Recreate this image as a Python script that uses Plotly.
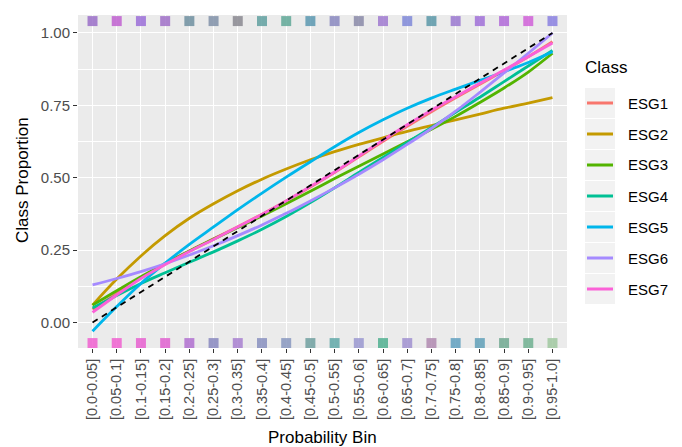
import plotly.graph_objects as go

bins = ["[0.0-0.05]", "[0.05-0.1]", "[0.1-0.15]", "[0.15-0.2]", "[0.2-0.25]",
        "[0.25-0.3]", "[0.3-0.35]", "[0.35-0.4]", "[0.4-0.45]", "[0.45-0.5]",
        "[0.5-0.55]", "[0.55-0.6]", "[0.6-0.65]", "[0.65-0.7]", "[0.7-0.75]",
        "[0.75-0.8]", "[0.8-0.85]", "[0.85-0.9]", "[0.9-0.95]", "[0.95-1.0]"]

classes = ["ESG1", "ESG2", "ESG3", "ESG4", "ESG5", "ESG6", "ESG7"]
class_colors = ["#F8766D", "#C49A00", "#53B400", "#00C094", "#00B6EB", "#A58AFF", "#FB61D7"]

esg1 = [0.045, 0.10, 0.155, 0.203, 0.247, 0.289, 0.331, 0.374, 0.42, 0.468,
        0.518, 0.572, 0.626, 0.678, 0.728, 0.776, 0.823, 0.87, 0.918, 0.97]
esg2 = [0.06, 0.15, 0.23, 0.30, 0.36, 0.41, 0.455, 0.495, 0.53, 0.562,
        0.59, 0.615, 0.638, 0.66, 0.68, 0.70, 0.72, 0.74, 0.758, 0.777]
esg3 = [0.06, 0.11, 0.158, 0.204, 0.247, 0.288, 0.328, 0.368, 0.41, 0.453,
        0.497, 0.54, 0.582, 0.624, 0.667, 0.712, 0.76, 0.81, 0.865, 0.93]
esg4 = [0.05, 0.093, 0.135, 0.172, 0.208, 0.244, 0.282, 0.322, 0.366, 0.414,
        0.465, 0.518, 0.57, 0.622, 0.674, 0.726, 0.778, 0.832, 0.886, 0.94]
esg5 = [-0.03, 0.055, 0.135, 0.205, 0.27, 0.33, 0.39, 0.447, 0.502, 0.555,
        0.607, 0.656, 0.70, 0.74, 0.775, 0.806, 0.836, 0.866, 0.898, 0.935]
esg6 = [0.13, 0.152, 0.176, 0.203, 0.233, 0.265, 0.30, 0.337, 0.377, 0.42,
        0.465, 0.512, 0.562, 0.615, 0.67, 0.73, 0.795, 0.862, 0.93, 1.0]
esg7 = [0.035, 0.095, 0.152, 0.20, 0.245, 0.287, 0.33, 0.373, 0.42, 0.47,
        0.52, 0.575, 0.63, 0.683, 0.733, 0.78, 0.826, 0.872, 0.918, 0.965]
series = [esg1, esg2, esg3, esg4, esg5, esg6, esg7]

ref_x = [bins[0], bins[-1]]
ref_y = [0.0, 1.0]

rug_top_colors = ["#9a6fc8", "#c060d0", "#9b6fd8", "#a070c8", "#6f8fa0",
                  "#8090a8", "#8a8890", "#60a0a0", "#60a898", "#5a98b0",
                  "#8a88c0", "#8a8aa8", "#a07ad0", "#7f88d8", "#5a98a8",
                  "#9a78d0", "#a070d8", "#b068d8", "#d060d8", "#8a80e0"]
rug_bottom_colors = ["#f060d0", "#f060d0", "#e860d0", "#e060d0", "#b070d0",
                     "#8888c0", "#a880d0", "#8890c0", "#8898c0", "#70a0a0",
                     "#60a8a8", "#9a98d0", "#50b090", "#a090d0", "#b08ab0",
                     "#60a0c0", "#60a0b8", "#70a890", "#70b090", "#a0c8a0"]

fig = go.Figure()

for name, vals, col in zip(classes, series, class_colors):
    fig.add_trace(go.Scatter(x=bins, y=vals, mode="lines", name=name,
                             line=dict(color=col, width=2.8, shape="spline", smoothing=1.0),
                             showlegend=False))

fig.add_trace(go.Scatter(x=ref_x, y=ref_y, mode="lines",
                         line=dict(color="black", width=1.8, dash="6px,5px"),
                         showlegend=False))

fig.add_trace(go.Scatter(x=bins, y=[1.041] * len(bins), mode="markers",
                         marker=dict(symbol="square", size=10, color=rug_top_colors,
                                     opacity=0.85, line=dict(width=0)),
                         showlegend=False))
fig.add_trace(go.Scatter(x=bins, y=[-0.071] * len(bins), mode="markers",
                         marker=dict(symbol="square", size=10, color=rug_bottom_colors,
                                     opacity=0.85, line=dict(width=0)),
                         showlegend=False))

# manual legend (ggplot style)
W, H = 682, 447
L, R, T, B = 78, 115, 15, 99
pw, ph = W - L - R, H - T - B

def px(x):
    return (x - L) / pw

def py(y):
    return (H - B - y) / ph

shapes = []
annotations = []
annotations.append(dict(x=px(583), y=py(68), xref="paper", yref="paper", text="Class",
                        showarrow=False, xanchor="left", yanchor="middle",
                        font=dict(size=17, color="black")))
for k, (name, col) in enumerate(zip(classes, class_colors)):
    cy = 103 + 31 * k
    shapes.append(dict(type="rect", xref="paper", yref="paper",
                       x0=px(585), x1=px(615), y0=py(cy - 15), y1=py(cy + 15),
                       fillcolor="#f2f2f2", line=dict(width=0), layer="below"))
    shapes.append(dict(type="line", xref="paper", yref="paper",
                       x0=px(587), x1=px(613), y0=py(cy), y1=py(cy),
                       line=dict(color=col, width=3)))
    annotations.append(dict(x=px(626), y=py(cy), xref="paper", yref="paper", text=name,
                            showarrow=False, xanchor="left", yanchor="middle",
                            font=dict(size=15, color="black")))

annotations.append(dict(x=0.5, y=py(437), xref="paper", yref="paper", text="Probability Bin",
                        showarrow=False, xanchor="center", yanchor="middle",
                        font=dict(size=17, color="black")))
annotations.append(dict(x=px(22), y=py(180), xref="paper", yref="paper", text="Class Proportion",
                        showarrow=False, xanchor="center", yanchor="middle", textangle=-90,
                        font=dict(size=17, color="black")))

fig.update_layout(
    width=W, height=H,
    margin=dict(l=L, r=R, t=T, b=B, pad=0),
    paper_bgcolor="white",
    plot_bgcolor="#ebebeb",
    font=dict(family="Liberation Sans, Arial, sans-serif"),
    shapes=shapes,
    annotations=annotations,
    showlegend=False,
)
fig.update_xaxes(
    type="category", range=[-0.6, 19.6], categoryorder="array", categoryarray=bins,
    showgrid=True, gridcolor="white", gridwidth=1.4, zeroline=False,
    ticks="outside", ticklen=4, tickwidth=1, tickcolor="#333333",
    tickangle=-90, tickfont=dict(size=14.5, color="#4d4d4d"),
    showline=False,
)
fig.update_yaxes(
    range=[-0.088, 1.062], tickvals=[0, 0.25, 0.5, 0.75, 1.0],
    ticktext=["0.00", "0.25", "0.50", "0.75", "1.00"],
    showgrid=True, gridcolor="white", gridwidth=1.4, zeroline=False,
    minor=dict(tickvals=[0.125, 0.375, 0.625, 0.875], showgrid=True,
               gridcolor="white", gridwidth=0.7, ticks=""),
    ticks="outside", ticklen=4, tickwidth=1, tickcolor="#333333",
    tickfont=dict(size=15, color="#4d4d4d"),
    showline=False,
)

fig.write_html("out.html")
